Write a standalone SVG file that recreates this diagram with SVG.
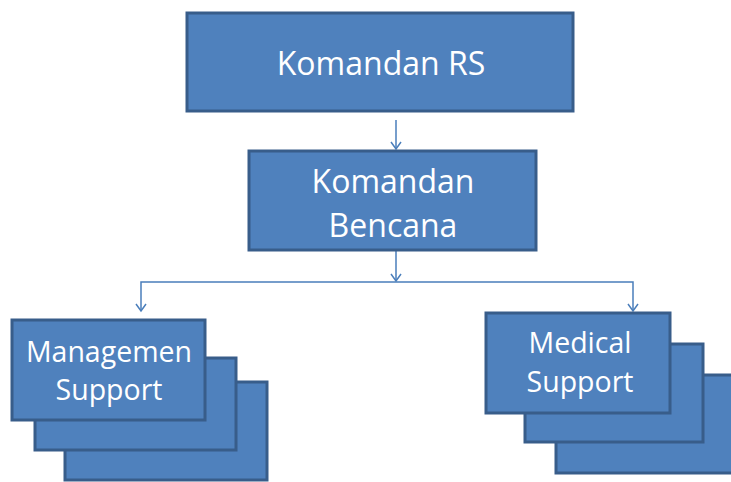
<svg xmlns="http://www.w3.org/2000/svg" width="731" height="482" viewBox="0 0 731 482">
<style>
.box{fill:#4f81bd;stroke:#385d8a;stroke-width:3}
.t{font-family:"Open Sans","Liberation Sans",sans-serif;fill:#ffffff;text-anchor:middle}
.c{fill:none;stroke:#4a7ebb;stroke-width:1.5}
</style>
<defs>
<marker id="ah" markerWidth="12" markerHeight="12" refX="10" refY="6" orient="auto" markerUnits="userSpaceOnUse" viewBox="0 0 12 12">
<path d="M3,1 L10,6 L3,11" fill="none" stroke="#4a7ebb" stroke-width="1.5"/>
</marker>
</defs>
<rect width="731" height="482" fill="#ffffff"/>
<g id="connectors">
<line class="c" x1="396" y1="120" x2="396" y2="149" marker-end="url(#ah)"/>
<line class="c" x1="396" y1="251" x2="396" y2="281" marker-end="url(#ah)"/>
<polyline class="c" points="141,290 141,282 633,282 633,290"/>
<line class="c" x1="141" y1="290" x2="141" y2="311" marker-end="url(#ah)"/>
<line class="c" x1="633" y1="290" x2="633" y2="311" marker-end="url(#ah)"/>
</g>
<g id="komandan-rs">
<rect class="box" x="187" y="13" width="386" height="98"/>
<text class="t" x="381" y="75" font-size="32">Komandan RS</text>
</g>
<g id="komandan-bencana">
<rect class="box" x="249" y="151" width="287" height="99"/>
<text class="t" x="393" y="193" font-size="32">Komandan</text>
<text class="t" x="393" y="237" font-size="32">Bencana</text>
</g>
<g id="managemen-support">
<rect class="box" x="65" y="382" width="202" height="98"/>
<rect class="box" x="35" y="358" width="201" height="92"/>
<rect class="box" x="12" y="320" width="193" height="100"/>
<text class="t" x="109" y="362" font-size="28.5">Managemen</text>
<text class="t" x="109" y="400" font-size="28.5">Support</text>
</g>
<g id="medical-support">
<rect class="box" x="556" y="375" width="180" height="98"/>
<rect class="box" x="525" y="344" width="178" height="98"/>
<rect class="box" x="486" y="313" width="184" height="100"/>
<text class="t" x="580" y="353" font-size="28.5">Medical</text>
<text class="t" x="580" y="392" font-size="28.5">Support</text>
</g>
</svg>
